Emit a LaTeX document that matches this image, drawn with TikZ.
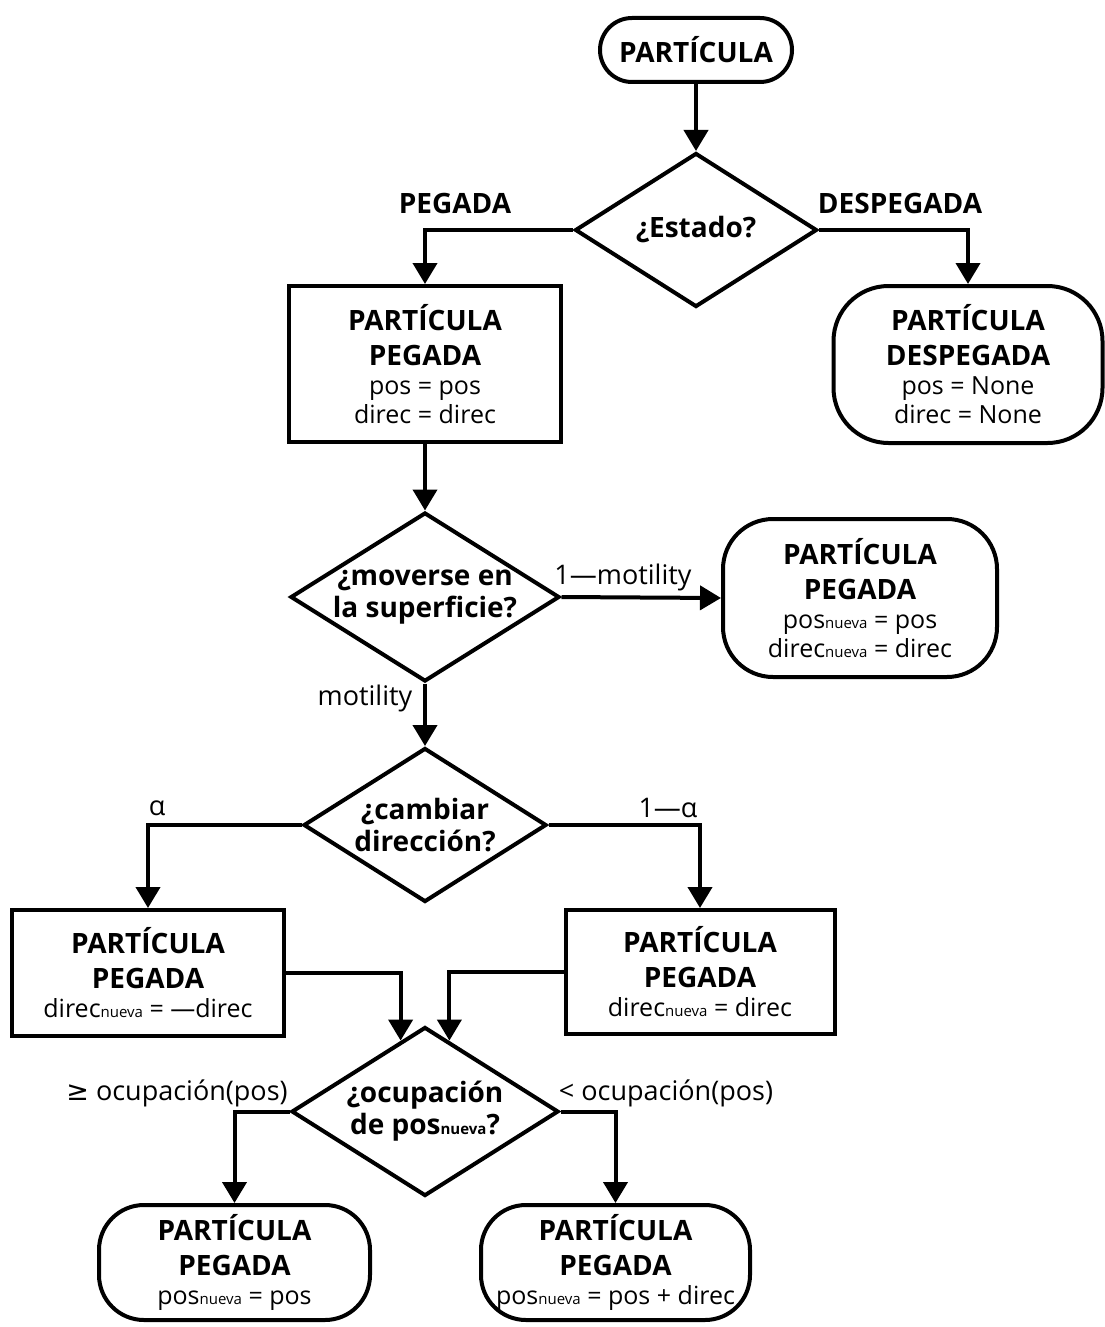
\documentclass[tikz,border=0pt]{standalone}
\usepackage{fontspec}
\setmainfont{Open Sans}
\newfontfamily\symfont{DejaVu Sans}
\usetikzlibrary{arrows.meta,shapes.geometric,calc}

% small subscript set on the baseline
\newcommand\nva{{\fontsize{15}{15}\selectfont nueva}}
% bold heading line inside a box
\newcommand\hd{\fontsize{28}{28}\selectfont\bfseries}

\tikzset{
  base/.style={draw, line width=4pt, inner sep=0pt, align=center,
    font=\fontsize{25}{29}\selectfont},
  box/.style={base, rectangle},
  rbox/.style={base, rectangle, rounded corners=#1},
  rbox/.default=50pt,
  dia/.style={draw, line width=4pt, shape=diamond, inner sep=0pt},
  dtext/.style={align=center, font=\fontsize{28}{32}\selectfont\bfseries},
  lab/.style={font=\fontsize{27}{30}\selectfont},
  blab/.style={font=\fontsize{28}{30}\selectfont\bfseries},
  conn/.style={line width=4pt, -{Triangle[length=21pt,width=24pt]}},
}

\begin{document}
\begin{tikzpicture}[x=1pt,y=-1pt]
\useasboundingbox (0,0) rectangle (1104,1327);

% start
\node[rbox=32pt, minimum width=192, minimum height=64] (start) at (696,50)
  {\hd PARTÍCULA};

% state decision
\node[dia, minimum width=242, minimum height=154] (d1) at (696,230) {};
\node[dtext] (t1) at (d1) {¿Estado?};

\node[box, minimum width=272, minimum height=156] (b1) at (425,364)
  {\hd PARTÍCULA\\[6pt]\hd PEGADA\\pos = pos\\direc = direc};
\node[rbox=55pt, minimum width=269, minimum height=157] (b2) at (968,364.5)
  {\hd PARTÍCULA\\[6pt]\hd DESPEGADA\\pos = None\\direc = None};

% move decision
\node[dia, minimum width=269, minimum height=169] (d2) at (425,597) {};
\node[dtext] (t2) at (d2) {¿moverse en\\la superficie?};

\node[rbox=50pt, minimum width=274, minimum height=158] (b3) at (860,598)
  {\hd PARTÍCULA\\[6pt]\hd PEGADA\\pos\nva{} = pos\\direc\nva{} = direc};

% direction decision
\node[dia, minimum width=243, minimum height=154] (d3) at (425,825) {};
\node[dtext] (t3) at (d3) {¿cambiar\\dirección?};

\node[box, minimum width=272, minimum height=126] (b4) at (148,973)
  {\hd PARTÍCULA\\[6pt]\hd PEGADA\\direc\nva{} = —direc};
\node[box, minimum width=269, minimum height=124] (b5) at (700,972)
  {\hd PARTÍCULA\\[6pt]\hd PEGADA\\direc\nva{} = direc};

% occupation decision
\node[dia, minimum width=267, minimum height=169] (d4) at (425,1111.5) {};
\node[dtext] (t4) at (d4) {¿ocupación\\de pos\nva?};

\node[rbox=45pt, minimum width=271, minimum height=115] (b6) at (234.5,1262.5)
  {\hd PARTÍCULA\\[6pt]\hd PEGADA\\pos\nva{} = pos};
\node[rbox=45pt, minimum width=269, minimum height=115] (b7) at (615.5,1262.5)
  {\hd PARTÍCULA\\[6pt]\hd PEGADA\\pos\nva{} = pos + direc};

% connectors
\draw[conn] (start.south) -- (d1.north);
\draw[conn] (d1.west) -| (b1.north);
\draw[conn] (d1.east) -| (b2.north);
\draw[conn] (b1.south) -- (d2.north);
\draw[conn] (d2.east) -- (b3.west);
\draw[conn] (d2.south) -- (d3.north);
\draw[conn] (d3.west) -| (b4.north);
\draw[conn] (d3.east) -| (b5.north);
\coordinate (in1) at ($(d4.north)!0.18!(d4.west)$);
\coordinate (in2) at ($(d4.north)!0.18!(d4.east)$);
\draw[conn] (b4.east) -| (in1);
\draw[conn] (b5.west) -| (in2);
\draw[conn] (d4.west) -| (b6.north);
\draw[conn] (d4.east) -| (b7.north);

% branch labels
\node[blab] (l1) at (455,203) {PEGADA};
\node[blab] (l2) at (900,203) {DESPEGADA};
\node[lab] (l3) at (623,577) {1—motility};
\node[lab] (l4) at (365,698) {motility};
\node[lab] (l5) at (157,808) {α};
\node[lab] (l6) at (668,808) {1—α};
\node[lab] (l7) at (177,1093) {{\symfont ≥} ocupación(pos)};
\node[lab] (l8) at (666,1093) {< ocupación(pos)};
\end{tikzpicture}
\end{document}
